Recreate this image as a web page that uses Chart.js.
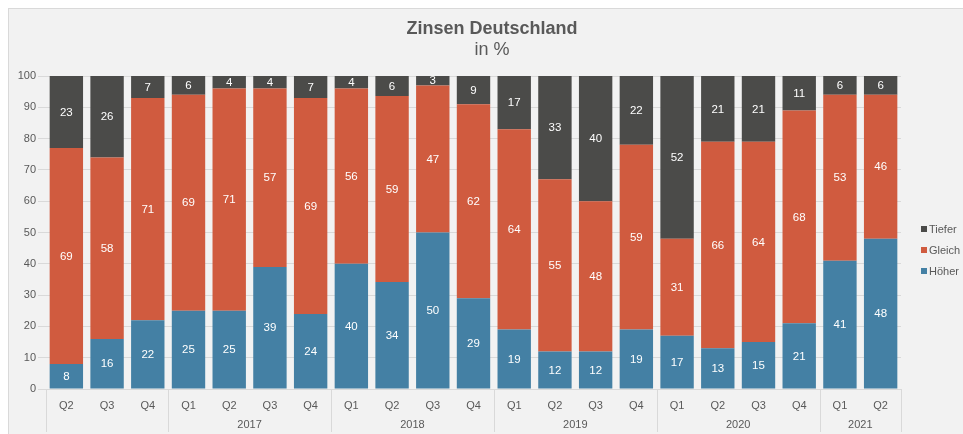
<!DOCTYPE html>
<html>
<head>
<meta charset="utf-8">
<script src="https://cdn.jsdelivr.net/npm/chart.js@4"></script>
<style>
html,body{margin:0;padding:0;background:#fff;}
#wrap{width:963px;height:434px;}
</style>
</head>
<body>
<div id="wrap"><canvas id="c" width="963" height="434"></canvas></div>
<script>
const quarters = ['Q2','Q3','Q4','Q1','Q2','Q3','Q4','Q1','Q2','Q3','Q4','Q1','Q2','Q3','Q4','Q1','Q2','Q3','Q4','Q1','Q2'];
const years = ['','','','2017','2017','2017','2017','2018','2018','2018','2018','2019','2019','2019','2019','2020','2020','2020','2020','2021','2021'];
const hoeher = [8,16,22,25,25,39,24,40,34.2,50,29,19,12,12,19,17,13,15,21,41,48];
const gleich = [69,58,71,69,71,57,69,56,59.4,47,62,64,55,48,59,31,66,64,68,53,46];
const tiefer = [23,26,7,6,4,4,7,4,6.4,3,9,17,33,40,22,52,21,21,11,6,6];
const seriesNames = ['Höher','Gleich','Tiefer'];
const seriesColors = ['#4480a4','#d05b3f','#4b4b49'];
const yTicks = [0,10,20,30,40,50,60,70,80,90,100];
const titleText = 'Zinsen Deutschland';
const subtitleText = 'in %';

const FONT = '"Liberation Sans", Arial, sans-serif';
const TXT = '#595959';
const GRID = '#d9d9d9';

const bgPlugin = {
  id: 'bg',
  beforeDraw(chart) {
    const ctx = chart.ctx;
    ctx.save();
    ctx.fillStyle = '#ffffff';
    ctx.fillRect(0, 0, chart.width, chart.height);
    ctx.fillStyle = '#f2f2f2';
    ctx.fillRect(8, 8, chart.width, chart.height);
    ctx.strokeStyle = GRID;
    ctx.lineWidth = 1;
    ctx.strokeRect(8.5, 8.5, chart.width + 10, chart.height + 10);
    ctx.restore();
  }
};

const decoPlugin = {
  id: 'deco',
  afterDatasetsDraw(chart) {
    const ctx = chart.ctx;
    ctx.save();
    ctx.fillStyle = '#ffffff';
    ctx.font = '11.5px ' + FONT;
    ctx.textAlign = 'center';
    ctx.textBaseline = 'middle';
    chart.data.datasets.forEach((ds, di) => {
      const meta = chart.getDatasetMeta(di);
      meta.data.forEach((el, i) => {
        const v = ds.data[i];
        if (!v) return;
        ctx.fillText(String(Math.round(v)), el.x, (el.y + el.base) / 2 + 0.5);
      });
    });
    ctx.restore();
  },
  afterDraw(chart) {
    const ctx = chart.ctx;
    const xs = chart.scales.x;
    const area = chart.chartArea;
    ctx.save();
    ctx.fillStyle = TXT;
    ctx.textAlign = 'center';
    ctx.textBaseline = 'middle';
    ctx.font = 'bold 18px ' + FONT;
    ctx.fillText(titleText, 492, 29);
    ctx.font = '18px ' + FONT;
    ctx.fillText(subtitleText, 492, 50);
    const n = quarters.length;
    const half = (xs.getPixelForValue(1) - xs.getPixelForValue(0)) / 2;
    const edge = i => (xs.getPixelForValue(i - 1) + xs.getPixelForValue(i)) / 2;
    const groups = [];
    let start = 0;
    for (let i = 1; i <= n; i++) {
      if (i === n || years[i] !== years[start]) {
        groups.push({ label: years[start], s: start, e: i });
        start = i;
      }
    }
    ctx.strokeStyle = GRID;
    ctx.lineWidth = 1;
    const bottomY = area.bottom;
    groups.forEach(g => {
      const x0 = g.s === 0 ? xs.getPixelForValue(0) - half : edge(g.s);
      const x1 = g.e === n ? xs.getPixelForValue(n - 1) + half : edge(g.e);
      [x0, x1].forEach(x => {
        const px = Math.round(x) + 0.5;
        ctx.beginPath();
        ctx.moveTo(px, bottomY);
        ctx.lineTo(px, 432);
        ctx.stroke();
      });
      if (g.label) {
        ctx.fillStyle = TXT;
        ctx.font = '11px ' + FONT;
        ctx.fillText(g.label, (x0 + x1) / 2, 424.5);
      }
    });
    const legendY = [229, 250, 271];
    const order = [2, 1, 0];
    ctx.textAlign = 'left';
    ctx.font = '11px ' + FONT;
    order.forEach((si, k) => {
      ctx.fillStyle = seriesColors[si];
      ctx.fillRect(921, legendY[k] - 3, 6, 6);
      ctx.fillStyle = TXT;
      ctx.fillText(seriesNames[si], 929, legendY[k] + 0.5);
    });
    ctx.restore();
  }
};

new Chart(document.getElementById('c'), {
  type: 'bar',
  data: {
    labels: quarters,
    datasets: [
      { label: seriesNames[0], data: hoeher, backgroundColor: seriesColors[0] },
      { label: seriesNames[1], data: gleich, backgroundColor: seriesColors[1] },
      { label: seriesNames[2], data: tiefer, backgroundColor: seriesColors[2] }
    ]
  },
  options: {
    responsive: false,
    animation: false,
    devicePixelRatio: 1,
    layout: { padding: { top: 76, right: 62, left: 0, bottom: 0 } },
    datasets: { bar: { barPercentage: 0.82, categoryPercentage: 1, borderWidth: 0 } },
    plugins: {
      legend: { display: false },
      title: { display: false },
      tooltip: { enabled: false }
    },
    scales: {
      x: {
        stacked: true,
        grid: { display: false },
        border: { display: true, color: GRID, width: 1 },
        ticks: { color: TXT, font: { family: FONT, size: 11 }, autoSkip: false, maxRotation: 0, padding: 2 },
        afterFit: s => { s.height = 45; }
      },
      y: {
        stacked: true,
        min: 0,
        max: 100,
        afterBuildTicks: s => { s.ticks = yTicks.map(v => ({ value: v })); },
        grid: { color: GRID, tickLength: 8, drawTicks: true },
        border: { display: false },
        ticks: { color: TXT, font: { family: FONT, size: 11 }, padding: 2 },
        afterFit: s => { s.width = 46; }
      }
    }
  },
  plugins: [bgPlugin, decoPlugin]
});
</script>
</body>
</html>
